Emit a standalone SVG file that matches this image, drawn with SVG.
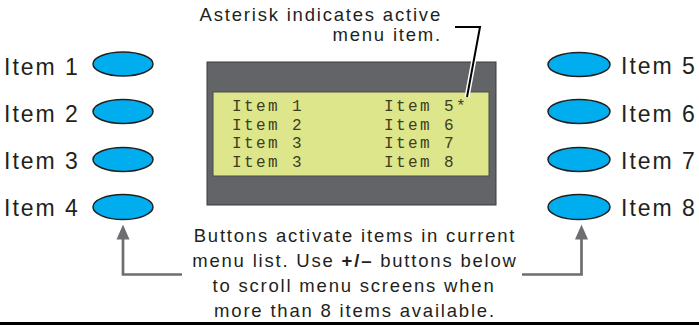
<svg xmlns="http://www.w3.org/2000/svg" width="699" height="326" viewBox="0 0 699 326">
<style>
.lbl{font-family:"Liberation Sans",Arial,sans-serif;font-size:23px;fill:#231f20;letter-spacing:2px}
.note{font-family:"Liberation Sans",Arial,sans-serif;font-size:18.5px;fill:#231f20;letter-spacing:1.8px}
.lcd{font-family:"Liberation Mono","DejaVu Sans Mono",monospace;font-size:16px;fill:#3e3d22;letter-spacing:2.4px}
.btn{fill:#00aeef;stroke:#231f20;stroke-width:1.5}
.arr{fill:none;stroke:#6d6e71;stroke-width:2.7}
.ahd{fill:#6d6e71}
</style>
<rect width="699" height="326" fill="#ffffff"/>

<g id="display">
<rect x="207" y="62" width="289" height="143" fill="#636467" stroke="#3a3a3c" stroke-width="1"/>
<rect x="213" y="92" width="276" height="84" fill="#dde68a" stroke="#4a4a4a" stroke-width="1"/>
<text class="lcd" x="232" y="111">Item 1</text>
<text class="lcd" x="232" y="129.5">Item 2</text>
<text class="lcd" x="232" y="148">Item 3</text>
<text class="lcd" x="232" y="166.5">Item 3</text>
<text class="lcd" x="384" y="111">Item 5*</text>
<text class="lcd" x="384" y="129.5">Item 6</text>
<text class="lcd" x="384" y="148">Item 7</text>
<text class="lcd" x="384" y="166.5">Item 8</text>
</g>

<g id="callout-asterisk">
<text class="note" x="442" y="21" text-anchor="end" letter-spacing="1.9">Asterisk indicates active</text>
<text class="note" x="442" y="41" text-anchor="end" letter-spacing="1.9">menu item.</text>
</g>

<g id="btn-left">
<g id="item1"><text class="lbl" x="4" y="75">Item 1</text><ellipse class="btn" cx="123" cy="64" rx="30" ry="12"/></g>
<g id="item2"><text class="lbl" x="4" y="122">Item 2</text><ellipse class="btn" cx="123" cy="111.5" rx="30" ry="12"/></g>
<g id="item3"><text class="lbl" x="4" y="169">Item 3</text><ellipse class="btn" cx="123" cy="159.5" rx="30" ry="12"/></g>
<g id="item4"><text class="lbl" x="4" y="216">Item 4</text><ellipse class="btn" cx="123" cy="207" rx="30" ry="12.5"/></g>
</g>

<g id="btn-right">
<g id="item5"><ellipse class="btn" cx="579" cy="64.5" rx="31" ry="12"/><text class="lbl" x="621" y="74">Item 5</text></g>
<g id="item6"><ellipse class="btn" cx="579" cy="111.5" rx="31" ry="12"/><text class="lbl" x="621" y="122">Item 6</text></g>
<g id="item7"><ellipse class="btn" cx="579" cy="159.5" rx="31" ry="12"/><text class="lbl" x="621" y="169">Item 7</text></g>
<g id="item8"><ellipse class="btn" cx="579" cy="207" rx="31" ry="12.5"/><text class="lbl" x="621" y="216">Item 8</text></g>
</g>

<g id="note-buttons">
<text class="note" x="355" y="242" text-anchor="middle">Buttons activate items in current</text>
<text class="note" x="355" y="267" text-anchor="middle">menu list. Use <tspan font-weight="bold">+/–</tspan> buttons below</text>
<text class="note" x="354" y="292" text-anchor="middle">to scroll menu screens when</text>
<text class="note" x="355" y="317" text-anchor="middle">more than 8 items available.</text>
</g>

<g id="connectors">
<polyline points="455,27 480,27 467,97" fill="none" stroke="#ffffff" stroke-width="5"/>
<polyline points="455,27 480,27 467,97" fill="none" stroke="#000000" stroke-width="2"/>
<polyline class="arr" points="182,274.5 123,274.5 123,238"/>
<polygon class="ahd" points="123,224.5 129.5,239.5 116.5,239.5"/>
<polyline class="arr" points="522,274.5 581.5,274.5 581.5,238"/>
<polygon class="ahd" points="581.5,224.5 588,239.5 575,239.5"/>
</g>

<line x1="0" y1="323.5" x2="699" y2="323.5" stroke="#000000" stroke-width="3"/>
</svg>
